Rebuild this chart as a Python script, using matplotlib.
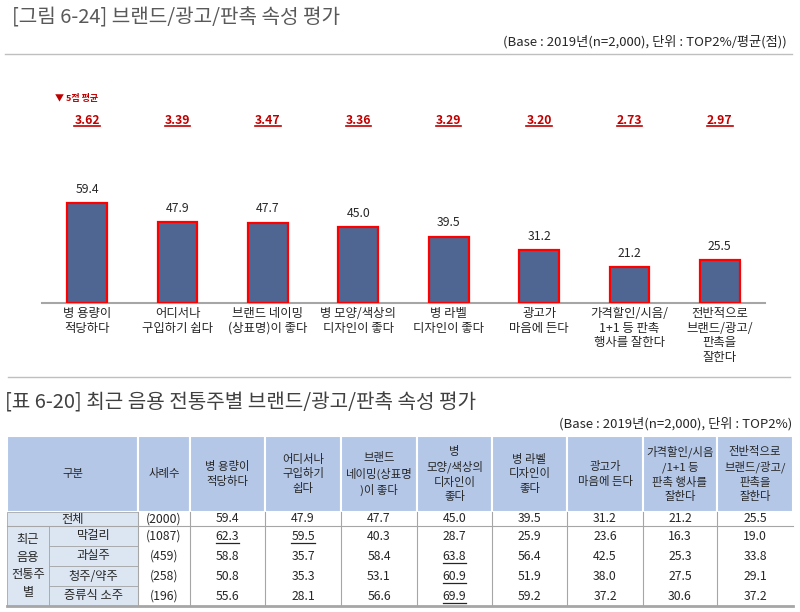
import matplotlib
matplotlib.use("Agg")
import matplotlib.pyplot as plt
from matplotlib.patches import Rectangle
from matplotlib.transforms import blended_transform_factory
import numpy as np

plt.rcParams['font.family'] = ['Noto Sans CJK KR', 'DejaVu Sans']

# ---------------- data ----------------
categories = ["병 용량이\n적당하다", "어디서나\n구입하기 쉽다", "브랜드 네이밍\n(상표명)이 좋다",
              "병 모양/색상의\n디자인이 좋다", "병 라벨\n디자인이 좋다", "광고가\n마음에 든다",
              "가격할인/시음/\n1+1 등 판촉\n행사를 잘한다", "전반적으로\n브랜드/광고/\n판촉을\n잘한다"]
top2 = [59.4, 47.9, 47.7, 45.0, 39.5, 31.2, 21.2, 25.5]
avg5 = [3.62, 3.39, 3.47, 3.36, 3.29, 3.20, 2.73, 2.97]

title1 = "[그림 6-24] 브랜드/광고/판촉 속성 평가"
subtitle1 = "(Base : 2019년(n=2,000), 단위 : TOP2%/평균(점))"
avg_legend = "▼ 5점 평균"
title2 = "[표 6-20] 최근 음용 전통주별 브랜드/광고/판촉 속성 평가"
subtitle2 = "(Base : 2019년(n=2,000), 단위 : TOP2%)"

header_first = ["구분", "사례수"]
table_headers = ["병 용량이\n적당하다", "어디서나\n구입하기\n쉽다", "브랜드\n네이밍(상표명\n)이 좋다",
                 "병\n모양/색상의\n디자인이\n좋다", "병 라벨\n디자인이\n좋다", "광고가\n마음에 든다",
                 "가격할인/시음\n/1+1 등\n판촉 행사를\n잘한다", "전반적으로\n브랜드/광고/\n판촉을\n잘한다"]
row_labels = ["전체", "막걸리", "과실주", "청주/약주", "증류식 소주"]
group_label = "최근\n음용\n전통주\n별"
sample_n = ["(2000)", "(1087)", "(459)", "(258)", "(196)"]
table_values = [
    [59.4, 47.9, 47.7, 45.0, 39.5, 31.2, 21.2, 25.5],
    [62.3, 59.5, 40.3, 28.7, 25.9, 23.6, 16.3, 19.0],
    [58.8, 35.7, 58.4, 63.8, 56.4, 42.5, 25.3, 33.8],
    [50.8, 35.3, 53.1, 60.9, 51.9, 38.0, 27.5, 29.1],
    [55.6, 28.1, 56.6, 69.9, 59.2, 37.2, 30.6, 37.2],
]
underlined_cells = [(1, 0), (1, 1), (2, 3), (3, 3), (4, 3)]

# ---------------- style / layout ----------------
RED = "#C00000"
BAR = "#4F6592"
HDR = "#B4C7E7"
LBL = "#DCE6F2"
GRID = "#A6A6A6"
TXT = "#262626"

fig = plt.figure(figsize=(8, 6.12), dpi=100)
ov = fig.add_axes([0, 0, 1, 1])
ov.set_xlim(0, 800)
ov.set_ylim(612, 0)
ov.axis('off')

# titles
ov.text(12, 18, title1, fontsize=14.5, color="#595959", va='center', ha='left')
ov.text(787, 42, subtitle1, fontsize=9.5, color=TXT, va='center', ha='right')
ov.plot([5, 792], [54, 54], color="#BFBFBF", lw=1)

# ---------------- bar chart ----------------
W, H = 800, 612
ax_left, ax_right, base_y = 42, 765, 303
ymax = 100
px_per_unit = 100 / 59.4
ax_h = ymax * px_per_unit
ax = fig.add_axes([ax_left / W, (H - base_y) / H, (ax_right - ax_left) / W, ax_h / H])
ax.patch.set_alpha(0)
x = np.arange(len(top2))
ax.bar(x, top2, width=0.44, color=BAR, edgecolor="#FF0000", linewidth=1.6, zorder=3)
for i, v in enumerate(top2):
    ax.annotate(f"{v:.1f}", (i, v), xytext=(0, 10), textcoords='offset points',
                ha='center', va='center', fontsize=8.8, color=TXT)
ax.set_xlim(-0.5, len(top2) - 0.5)
ax.set_ylim(0, ymax)
ax.set_yticks([])
for s in ['left', 'right', 'top']:
    ax.spines[s].set_visible(False)
ax.spines['bottom'].set_color(GRID)
ax.spines['bottom'].set_linewidth(1.5)
ax.set_xticks(x)
ax.set_xticklabels(categories, fontsize=8.9, color=TXT, linespacing=1.15)
ax.tick_params(axis='x', length=0, pad=3)

trans = blended_transform_factory(ax.transData, ov.transData)
avg_texts = []
for i, a in enumerate(avg5):
    t = ax.text(i, 124, f"{a:.2f}", transform=trans, ha='center', va='baseline',
                color=RED, fontweight='bold', fontsize=8.8)
    avg_texts.append(t)
ov.text(55, 99, avg_legend, fontsize=6.5, color=RED, fontweight='bold', va='center', ha='left')

ov.plot([8, 790], [377, 377], color="#BFBFBF", lw=1)

# ---------------- table ----------------
ov.text(5, 403, title2, fontsize=14.5, color="#404040", va='center', ha='left')
ov.text(792, 424, subtitle2, fontsize=9.5, color=TXT, va='center', ha='right')

col_edges = [7, 138, 190, 265, 341, 417, 492, 567, 643, 717, 793]
sub_edge = 49
hdr_top, hdr_bot = 436, 512
row_edges = [512, 526, 546, 566, 586, 606]

# header cells
for j in range(len(col_edges) - 1):
    x0, x1 = col_edges[j], col_edges[j + 1]
    ov.add_patch(Rectangle((x0, hdr_top), x1 - x0, hdr_bot - hdr_top, facecolor=HDR,
                           edgecolor='white', lw=1.5, zorder=1))
    label = header_first[j] if j < 2 else table_headers[j - 2]
    ov.text((x0 + x1) / 2, (hdr_top + hdr_bot) / 2, label, ha='center', va='center',
            fontsize=8.2, color=TXT, linespacing=1.4, zorder=3)

# label cells
ov.add_patch(Rectangle((col_edges[0], row_edges[0]), col_edges[1] - col_edges[0],
                       row_edges[1] - row_edges[0], facecolor=LBL, edgecolor=GRID, lw=0.6, zorder=1))
ov.add_patch(Rectangle((col_edges[0], row_edges[1]), sub_edge - col_edges[0],
                       row_edges[-1] - row_edges[1], facecolor=LBL, edgecolor=GRID, lw=0.6, zorder=1))
ov.text((col_edges[0] + col_edges[1]) / 2, (row_edges[0] + row_edges[1]) / 2, row_labels[0],
        ha='center', va='center', fontsize=8.8, color=TXT, zorder=3)
ov.text((col_edges[0] + sub_edge) / 2, (row_edges[1] + row_edges[-1]) / 2, group_label,
        ha='center', va='center', fontsize=8.8, color=TXT, linespacing=1.45, zorder=3)
for r in range(1, len(row_labels)):
    y0, y1 = row_edges[r], row_edges[r + 1]
    ov.add_patch(Rectangle((sub_edge, y0), col_edges[1] - sub_edge, y1 - y0, facecolor=LBL,
                           edgecolor=GRID, lw=0.6, zorder=1))
    ov.text((sub_edge + col_edges[1]) / 2, (y0 + y1) / 2, row_labels[r], ha='center',
            va='center', fontsize=8.8, color=TXT, zorder=3)

# grid lines in body
for xe in col_edges[1:-1]:
    ov.plot([xe, xe], [row_edges[0], row_edges[-1]], color=GRID, lw=0.8, zorder=2)
ov.plot([col_edges[0], col_edges[-1]], [row_edges[1], row_edges[1]], color=GRID, lw=0.8, zorder=2)
ov.plot([col_edges[0], col_edges[-1]], [row_edges[-1], row_edges[-1]], color=GRID, lw=2, zorder=2)

# body values
cell_texts = {}
for r in range(len(row_labels)):
    yc = (row_edges[r] + row_edges[r + 1]) / 2
    ov.text((col_edges[1] + col_edges[2]) / 2, yc, sample_n[r], ha='center', va='center',
            fontsize=8.8, color=TXT, zorder=3)
    for c, v in enumerate(table_values[r]):
        xc = (col_edges[c + 2] + col_edges[c + 3]) / 2
        t = ov.text(xc, yc, f"{v:.1f}", ha='center', va='center', fontsize=8.8, color=TXT, zorder=3)
        cell_texts[(r, c)] = (t, yc)

# underlines
fig.canvas.draw()
renderer = fig.canvas.get_renderer()
inv = ov.transData.inverted()

def hspan(t):
    bb = t.get_window_extent(renderer)
    (xa, _), (xb, _) = inv.transform([(bb.x0, bb.y0), (bb.x1, bb.y0)])
    return xa, xb

for t in avg_texts:
    xa, xb = hspan(t)
    ov.plot([xa, xb], [126, 126], color=RED, lw=1.2)
for key in underlined_cells:
    t, yc = cell_texts[key]
    xa, xb = hspan(t)
    ov.plot([xa, xb], [yc + 6.5, yc + 6.5], color=TXT, lw=0.9, zorder=3)

fig.savefig("out.png", dpi=100)
